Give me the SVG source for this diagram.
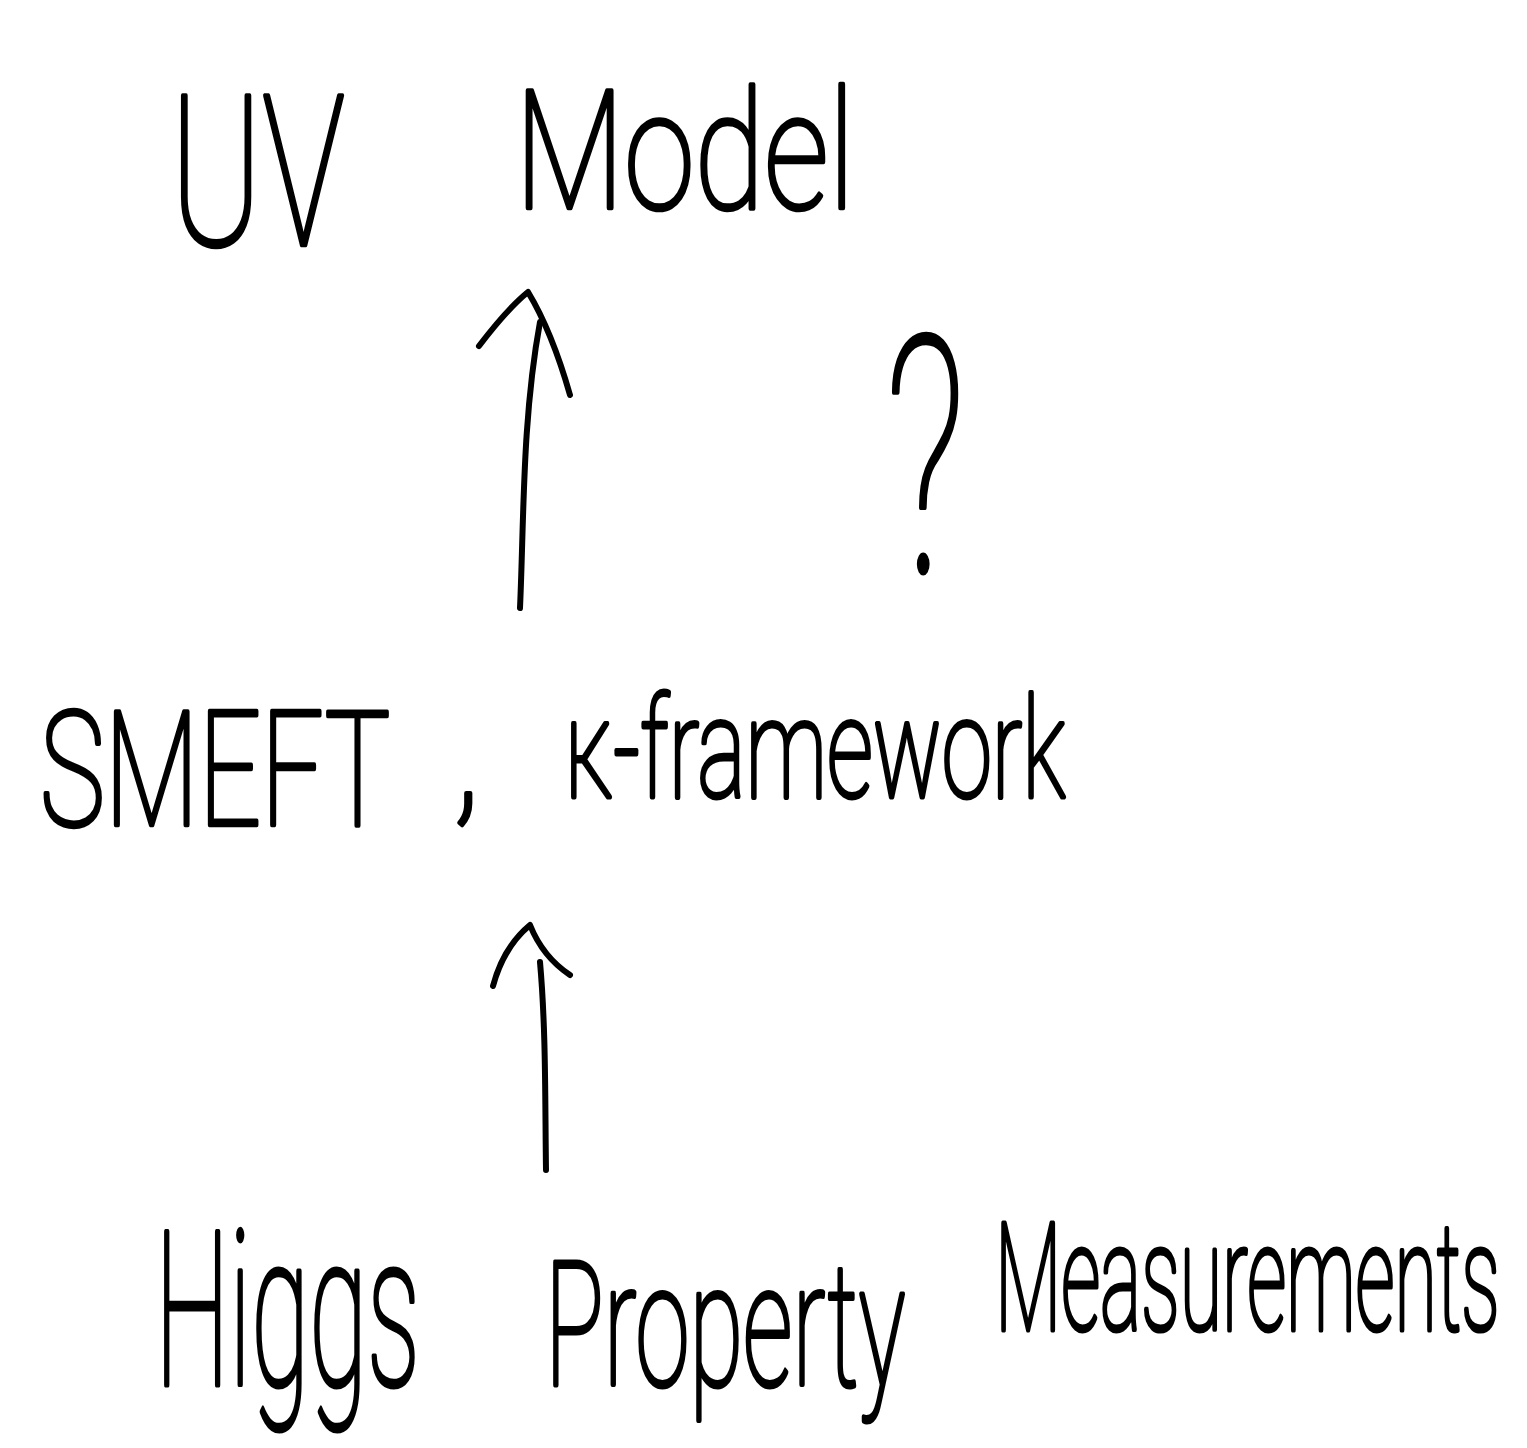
<svg xmlns="http://www.w3.org/2000/svg" width="1527" height="1448" viewBox="0 0 1527 1448">
  <style>
    .hand { font-family: "Roboto", "Liberation Sans", sans-serif; font-weight: 100; fill: #000; stroke: #000; stroke-width: 4; stroke-linejoin: round; vector-effect: non-scaling-stroke; }
    .conn path { fill: none; stroke: #000; stroke-width: 6; stroke-linecap: round; stroke-linejoin: round; }
  </style>
  <rect width="1527" height="1448" fill="#fff"/>

  <!-- Top level: UV model -->
  <g id="uv-model">
    <text class="hand" transform="translate(170,245) scale(0.65,1)" font-size="210" textLength="269" lengthAdjust="spacingAndGlyphs">UV</text>
    <text class="hand" transform="translate(515,208) scale(0.74,1)" font-size="165" textLength="459" lengthAdjust="spacingAndGlyphs">Model</text>
  </g>

  <!-- Open question beside the upper arrow -->
  <g id="question">
    <text class="hand" transform="translate(885,572) scale(0.52,1)" font-size="330" textLength="154" lengthAdjust="spacingAndGlyphs">?</text>
  </g>

  <!-- Middle level: effective descriptions -->
  <g id="smeft-kappa">
    <text class="hand" transform="translate(40,825) scale(0.68,1)" font-size="160" textLength="515" lengthAdjust="spacingAndGlyphs">SMEFT</text>
    <text class="hand" x="452" y="805" font-size="160">,</text>
    <text class="hand" transform="translate(565,797) scale(0.63,1)" font-size="140" textLength="794" lengthAdjust="spacingAndGlyphs">κ-framework</text>
  </g>

  <!-- Bottom level: measurements -->
  <g id="higgs-measurements">
    <text class="hand" transform="translate(155,1385) scale(0.48,1)" font-size="215" textLength="552" lengthAdjust="spacingAndGlyphs">Higgs</text>
    <text class="hand" transform="translate(545,1385) scale(0.55,1)" font-size="172" textLength="655" lengthAdjust="spacingAndGlyphs">Property</text>
    <text class="hand" transform="translate(995,1330) scale(0.47,1)" font-size="150" textLength="1074" lengthAdjust="spacingAndGlyphs">Measurements</text>
  </g>

  <!-- Hand-drawn arrows between levels -->
  <g class="conn" id="connectors">
    <g id="smeft-to-uv">
      <path d="M520,608 C524,520 522,420 540,322"/>
      <path d="M479,346 C495,325 512,305 528,292 C545,320 560,360 570,395"/>
    </g>
    <g id="higgs-to-smeft">
      <path d="M546,1170 C545,1100 546,1030 540,962"/>
      <path d="M493,986 C500,960 512,940 530,925 C540,950 555,965 570,975"/>
    </g>
  </g>
</svg>
